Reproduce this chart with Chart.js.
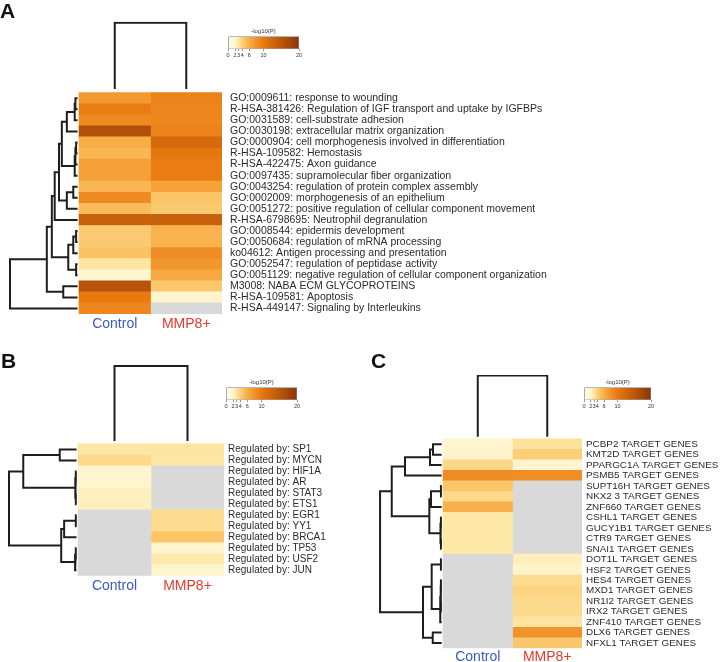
<!DOCTYPE html>
<html lang="en">
<head>
<meta charset="UTF-8">
<title>Enrichment heatmaps</title>
<script src="https://cdn.jsdelivr.net/npm/chart.js"></script>
<style>
  body { margin: 0; background: #fff; }
  #fig { position: relative; width: 720px; height: 662px; overflow: hidden; font-family: "Liberation Sans", Arial, sans-serif; }
  .box { position: absolute; }
  .tag { position: absolute; font-weight: bold; font-size: 21px; line-height: 21px; color: #111; }
</style>
</head>
<body>
<div id="fig">
  <div class="box" style="left:0;top:0;width:720px;height:340px"><canvas id="hmA"></canvas></div>
  <div class="box" style="left:0;top:340px;width:360px;height:260px"><canvas id="hmB"></canvas></div>
  <div class="box" style="left:360px;top:340px;width:360px;height:322px"><canvas id="hmC"></canvas></div>
  <div class="box" style="left:222px;top:27.8px;width:83px;height:32.2px"><canvas id="cbA"></canvas></div>
  <div class="box" style="left:220px;top:378.8px;width:83px;height:32.2px"><canvas id="cbB"></canvas></div>
  <div class="box" style="left:578px;top:378.8px;width:79px;height:32.2px"><canvas id="cbC"></canvas></div>
  <div class="tag" style="left:0;top:0">A</div>
  <div class="tag" style="left:1px;top:350px">B</div>
  <div class="tag" style="left:371px;top:350px">C</div>
</div>

<script>
  const FONT = '"Liberation Sans", Arial, sans-serif';
  Chart.defaults.font.family = FONT;

  // columns
  const groups = ["Control", "MMP8+"];
  const groupColors = ["#3a5bc7", "#e5392a"];

  // -log10(P) colour scale
  const scaleVals = [0, 2, 3, 4, 6, 10, 20];
  const scaleColors = ["#fbfaf2", "#fef5cf", "#fde6a4", "#fcd07a", "#f8ad45", "#e8790f", "#8c3506"];
  const naColor = "#d9d9d9";

  // panel A
  const labelsA = [
    "GO:0009611: response to wounding",
    "R-HSA-381426: Regulation of IGF transport and uptake by IGFBPs",
    "GO:0031589: cell-substrate adhesion",
    "GO:0030198: extracellular matrix organization",
    "GO:0000904: cell morphogenesis involved in differentiation",
    "R-HSA-109582: Hemostasis",
    "R-HSA-422475: Axon guidance",
    "GO:0097435: supramolecular fiber organization",
    "GO:0043254: regulation of protein complex assembly",
    "GO:0002009: morphogenesis of an epithelium",
    "GO:0051272: positive regulation of cellular component movement",
    "R-HSA-6798695: Neutrophil degranulation",
    "GO:0008544: epidermis development",
    "GO:0050684: regulation of mRNA processing",
    "ko04612: Antigen processing and presentation",
    "GO:0052547: regulation of peptidase activity",
    "GO:0051129: negative regulation of cellular component organization",
    "M3008: NABA ECM GLYCOPROTEINS",
    "R-HSA-109581: Apoptosis",
    "R-HSA-449147: Signaling by Interleukins"
  ];
  const controlA = [7.5, 9.8, 8.8, 16, 6, 5.5, 7, 7, 5.5, 8.7, 5.2, 13.5, 4.4, 4.4, 4.8, 3, 2, 15.5, 10, 9];
  const mmp8A = [9.2, 9, 9, 9.2, 12.2, 10.3, 9.8, 9.8, 6.8, 4.7, 4.4, 13.5, 5.7, 5.7, 8.5, 7.8, 6.3, 4.5, 2, null];
  // merges: [node a, node b, height]; new nodes numbered after the leaves
  const rowTreeA = [
    [0, 1, 0.05], [20, 2, 0.06], [21, 3, 0.17], [4, 5, 0.04], [23, 6, 0.05], [24, 7, 0.06],
    [22, 25, 0.24], [8, 9, 0.08], [27, 10, 0.17], [26, 28, 0.28], [29, 11, 0.34],
    [12, 13, 0.04], [31, 14, 0.08], [15, 16, 0.04], [32, 33, 0.15], [30, 34, 0.38],
    [17, 18, 0.22], [35, 36, 0.45], [37, 19, 0.965]
  ];
  const colTreeA = [0, 1, 6.32];

  // panel B
  const labelsB = ["SP1", "MYCN", "HIF1A", "AR", "STAT3", "ETS1", "EGR1", "YY1", "BRCA1", "TP53", "USF2", "JUN"]
    .map(g => "Regulated by: " + g);
  const controlB = [3, 3.6, 2, 2, 2.4, 2.4, null, null, null, null, null, null];
  const mmp8B = [3.1, 3, null, null, null, null, 3.5, 3.5, 4.7, 2, 2.8, 2.1];
  const rowTreeB = [
    [0, 1, 0.25], [2, 3, 0.03], [4, 5, 0.03], [13, 14, 0.04], [12, 15, 0.75],
    [6, 7, 0.03], [17, 8, 0.19], [9, 10, 0.03], [19, 11, 0.04], [18, 20, 0.23], [16, 21, 0.945]
  ];
  const colTreeB = [0, 1, 7.1];

  // panel C
  const labelsC = ["PCBP2", "KMT2D", "PPARGC1A", "PSMB5", "SUPT16H", "NKX2 3", "ZNF660", "CSHL1", "GUCY1B1", "CTR9",
    "SNAI1", "DOT1L", "HSF2", "HES4", "MXD1", "NR1I2", "IRX2", "ZNF410", "DLX6", "NFXL1"]
    .map(g => g + " TARGET GENES");
  const controlC = [2, 2.1, 3.7, 8.6, 4.6, 3.6, 5.8, 2.9, 2.9, 2.9, 2.9, null, null, null, null, null, null, null, null, null];
  const mmp8C = [3.2, 4.1, 2, 8.4, null, null, null, null, null, null, null, 2.5, 2.1, 3.5, 3.8, 3.6, 3.6, 3.1, 8, 4.5];
  const rowTreeC = [
    [0, 1, 0.144], [20, 2, 0.187], [21, 3, 0.547], [4, 5, 0.03], [23, 6, 0.173],
    [7, 8, 0.03], [9, 10, 0.03], [25, 26, 0.04], [24, 27, 0.197], [22, 28, 0.738],
    [11, 12, 0.03], [13, 14, 0.03], [15, 16, 0.03], [31, 32, 0.035], [33, 17, 0.04],
    [30, 34, 0.163], [18, 19, 0.148], [35, 36, 0.288], [29, 37, 0.906]
  ];
  const colTreeC = [0, 1, 6.05];

  function hexRgb(h) {
    return [1, 3, 5].map(i => parseInt(h.slice(i, i + 2), 16));
  }

  function cellColor(v) {
    if (v === null) return naColor;
    for (let i = 1; i < scaleVals.length; i++) {
      if (v <= scaleVals[i]) {
        const t = (v - scaleVals[i - 1]) / (scaleVals[i] - scaleVals[i - 1]);
        const a = hexRgb(scaleColors[i - 1]), b = hexRgb(scaleColors[i]);
        const c = a.map((x, k) => Math.round(x + (b[k] - x) * t));
        return "rgb(" + c.join(",") + ")";
      }
    }
    return scaleColors[scaleColors.length - 1];
  }

  // row dendrogram as one broken line, drawn to the left of the heatmap (x < 0)
  function rowDendro(tree, n, gap) {
    const pos = [], ht = [], pts = [];
    for (let i = 0; i < n; i++) { pos.push(i); ht.push(gap); }
    tree.forEach(([a, b, h]) => {
      pts.push({ x: -ht[a], y: pos[a] }, { x: -h, y: pos[a] }, { x: -h, y: pos[b] }, { x: -ht[b], y: pos[b] }, { x: null, y: null });
      pos.push((pos[a] + pos[b]) / 2);
      ht.push(h);
    });
    return pts;
  }

  // column dendrogram above the heatmap (y < -0.5)
  function colDendro([a, b, h], gap) {
    const xs = [0.5, 1.5];
    const y0 = -0.5 - gap, y1 = -0.5 - h;
    return [{ x: xs[a], y: y0 }, { x: xs[a], y: y1 }, { x: xs[b], y: y1 }, { x: xs[b], y: y0 }];
  }

  function heatmap(id, p) {
    const n = p.labels.length;
    const rows = p.labels.map((_, i) => i);
    const cells = (vals, x0) => ({
      type: "bar", indexAxis: "y", grouped: false,
      data: rows.map(i => ({ x: [x0, x0 + 1], y: i })),
      backgroundColor: vals.map(cellColor),
      borderWidth: 0, barPercentage: 1, categoryPercentage: 1
    });
    const tree = (data) => ({
      type: "line", data: data, borderColor: "#1e1e1e", borderWidth: 2,
      pointRadius: 0, fill: false, tension: 0, spanGaps: false, borderJoinStyle: "miter"
    });
    new Chart(document.getElementById(id), {
      type: "bar",
      data: {
        datasets: [
          cells(p.control, 0),
          cells(p.mmp8, 1),
          tree(rowDendro(p.rowTree, n, 0.02)),
          tree(colDendro(p.colTree, p.colGap))
        ]
      },
      options: {
        responsive: true, maintainAspectRatio: false, animation: false, events: [],
        layout: { padding: { left: p.padL, top: p.padT, right: 0, bottom: 0 } },
        plugins: { legend: { display: false }, tooltip: { enabled: false } },
        scales: {
          x: {
            type: "linear", position: "bottom", min: p.xMin, max: 2, offset: false,
            grid: { display: false, drawTicks: false, offset: false }, border: { display: false },
            afterBuildTicks: s => { s.ticks = [{ value: 0.5 }, { value: 1.5 }]; },
            afterFit: s => { s.height = p.axisH; },
            ticks: {
              autoSkip: false, maxRotation: 0, padding: p.xPad,
              font: { size: 14 }, color: c => groupColors[c.index],
              callback: (v, i) => groups[i]
            }
          },
          y: {
            type: "linear", position: "right", reverse: true, min: p.yMin, max: n - 0.5,
            offset: false, beginAtZero: false,
            grid: { display: false, drawTicks: false }, border: { display: false },
            afterBuildTicks: s => { s.ticks = rows.map(i => ({ value: i })); },
            afterFit: s => { s.width = p.axisW; },
            ticks: {
              autoSkip: false, padding: p.yPad, font: { size: p.font }, color: "#2b2b2b",
              callback: v => p.labels[v]
            }
          }
        }
      }
    });
  }

  function colorBar(id) {
    new Chart(document.getElementById(id), {
      type: "bar",
      data: {
        labels: [""],
        datasets: [{
          data: [[0, 20]],
          backgroundColor: ctx => {
            const a = ctx.chart.chartArea;
            if (!a) return "#fff";
            const g = ctx.chart.ctx.createLinearGradient(a.left, 0, a.right, 0);
            scaleVals.forEach((v, i) => g.addColorStop(v / 20, scaleColors[i]));
            return g;
          },
          borderColor: "#555", borderWidth: 0.8, borderSkipped: false,
          barPercentage: 1, categoryPercentage: 1, inflateAmount: 0
        }]
      },
      options: {
        indexAxis: "y", responsive: true, maintainAspectRatio: false, animation: false, events: [],
        layout: { padding: { left: 6, right: 6, top: 0, bottom: 0 } },
        plugins: {
          legend: { display: false }, tooltip: { enabled: false },
          title: {
            display: true, text: "-log10(P)", color: "#333",
            font: { size: 6, weight: "normal" }, padding: { top: 0, bottom: 1 }
          }
        },
        scales: {
          x: {
            type: "linear", min: 0, max: 20,
            afterBuildTicks: s => { s.ticks = scaleVals.map(v => ({ value: v })); },
            afterFit: s => { s.height = 11; },
            grid: { display: true, drawOnChartArea: false, drawTicks: true, tickLength: 2, color: "#555", lineWidth: 0.6 },
            border: { display: false },
            ticks: { autoSkip: false, maxRotation: 0, padding: 0.5, font: { size: 5.5 }, color: "#333" }
          },
          y: { display: false }
        }
      }
    });
  }

  heatmap("hmA", {
    labels: labelsA, control: controlA, mmp8: mmp8A, rowTree: rowTreeA, colTree: colTreeA, colGap: 0.33,
    xMin: -1, yMin: -6.9, padL: 7.5, padT: 21.85, axisW: 498, axisH: 26, xPad: 2, yPad: 8, font: 10.5
  });
  heatmap("hmB", {
    labels: labelsB, control: controlB, mmp8: mmp8B, rowTree: rowTreeB, colTree: colTreeB, colGap: 0.27,
    xMin: -1, yMin: -7.7, padL: 5, padT: 24.9, axisW: 136, axisH: 24.3, xPad: 2, yPad: 4, font: 10
  });
  heatmap("hmC", {
    labels: labelsC, control: controlC, mmp8: mmp8C, rowTree: rowTreeC, colTree: colTreeC, colGap: 0.2,
    xMin: -0.95, yMin: -6.6, padL: 17, padT: 35.1, axisW: 138, axisH: 13.7, xPad: 0, yPad: 4, font: 9.9
  });
  colorBar("cbA");
  colorBar("cbB");
  colorBar("cbC");
</script>
</body>
</html>
